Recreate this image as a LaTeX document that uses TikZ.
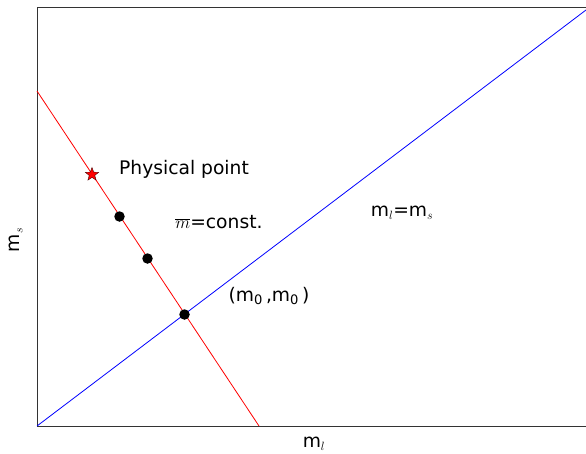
\documentclass[tikz,border=0pt]{standalone}
\usepackage{fontspec}
\setmainfont{DejaVu Sans}
\usetikzlibrary{shapes.geometric}
\newcommand\mbarsym{\vbox{\hrule height 0.9pt \kern 1.8pt \hbox{$m$}}}
\begin{document}
\begin{tikzpicture}[x=1pt,y=-1pt,
  lbl/.style={font=\fontsize{18.7}{22}\selectfont, inner sep=0pt},
  dot/.style={circle, fill=black, inner sep=0pt, minimum size=10.5pt},
  starmark/.style={star, star points=5, star point ratio=2.4, fill=red, draw=black!70!red, line width=0.4pt, inner sep=0pt, minimum size=14pt},
  axisline/.style={draw=black!80, line width=0.9pt},
  redline/.style={draw=red, line width=0.8pt},
  blueline/.style={draw=blue, line width=0.8pt}]
\useasboundingbox (0,0) rectangle (586,453);
% axes
\coordinate (tl) at (37,7);
\coordinate (bl) at (37,426);
\coordinate (tr) at (586,7);
\coordinate (br) at (586,426);
\draw[axisline] (tr) -- (tl) -- (bl) -- (br);
% lines
\coordinate (bstart) at (37,426);
\coordinate (bend) at (586,10);
\draw[blueline] (bstart) -- (bend);
\coordinate (rstart) at (37,91);
\coordinate (rend) at (259,426);
\draw[redline] (rstart) -- (rend);
% points
\node[starmark] (phys) at (92,174.5) {};
\node[dot] (p1) at (119.5,216.5) {};
\node[dot] (p2) at (147.5,258.5) {};
\node[dot] (p3) at (184.5,314.5) {};
% labels
\node[lbl] (tphys) at (184,169.5) {Physical point};
\node[lbl] (tconst) at (219,222.5) {\mbarsym=const.};
\node[lbl] (tdiag) at (402,212.5) {m$_{l}$=m$_{s}$};
\node[lbl] (tm0) at (269,296) {(m\textsubscript{0}\,,m\textsubscript{0}\,)};
\node[lbl] (xlab) at (314,443.5) {m$_{l}$};
\node[lbl, rotate=90] (ylab) at (16,240) {m$_{s}$};
\end{tikzpicture}
\end{document}
